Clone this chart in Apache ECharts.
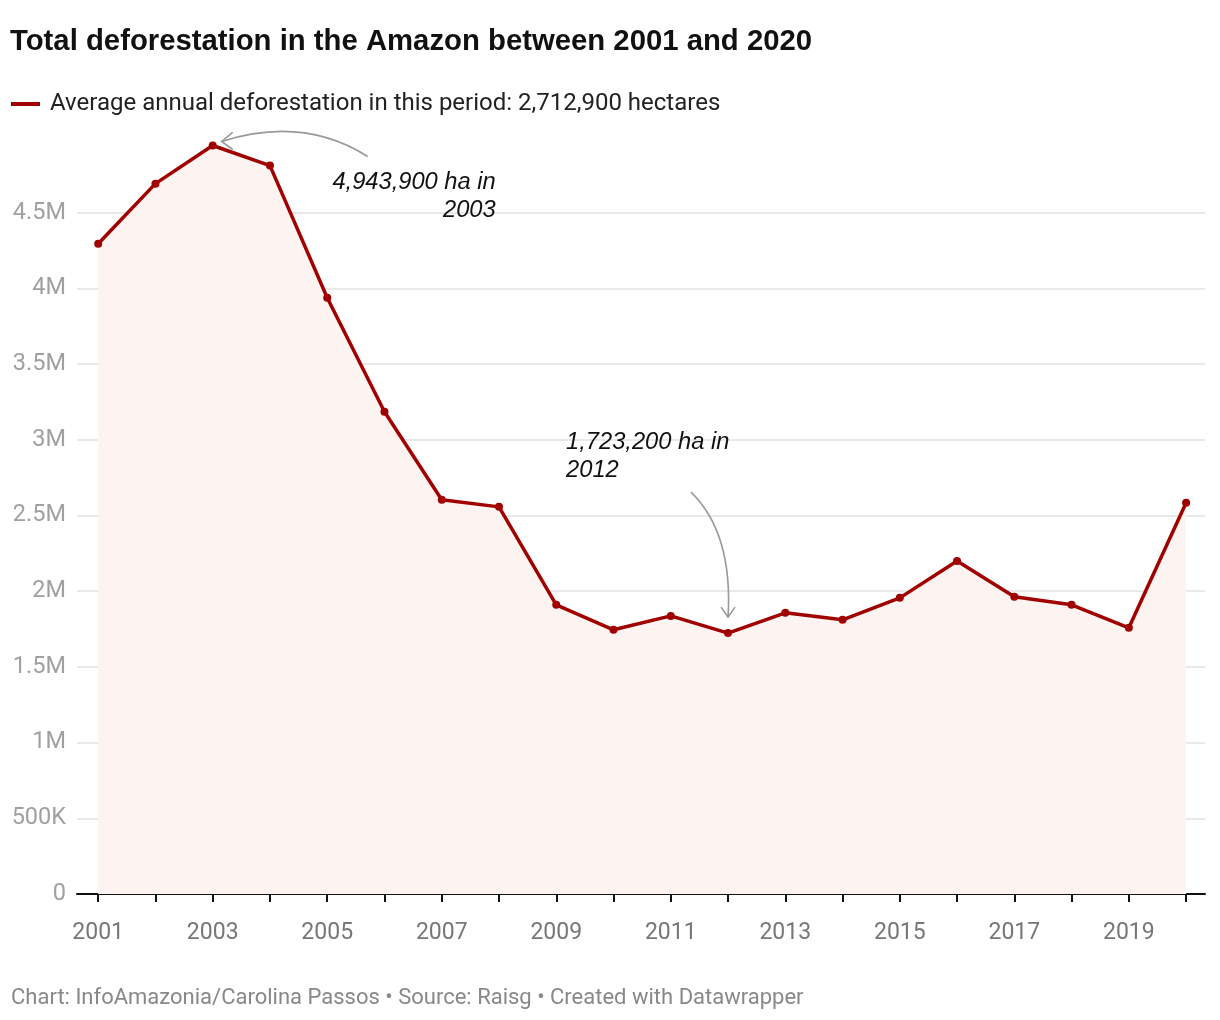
<!DOCTYPE html>
<html>
<head>
<meta charset="utf-8">
<script src="https://cdn.jsdelivr.net/npm/echarts@6/dist/echarts.min.js"></script>
<style>
html,body{margin:0;padding:0;background:#fff;}
#chart{width:1220px;height:1020px;}
</style>
</head>
<body>
<div id="chart"></div>
<script>
const years = [2001,2002,2003,2004,2005,2006,2007,2008,2009,2010,2011,2012,2013,2014,2015,2016,2017,2018,2019,2020];
const deforestation = [4295000,4692000,4943900,4811000,3938000,3185000,2604000,2557000,1910000,1745000,1837000,1723200,1857000,1811000,1956000,2200000,1963000,1910000,1758000,2584000];
const xLabelYears = [2001,2003,2005,2007,2009,2011,2013,2015,2017,2019];
const seriesName = 'Average annual deforestation in this period: 2,712,900 hectares';
const titleText = 'Total deforestation in the Amazon between 2001 and 2020';
const footerText = 'Chart: InfoAmazonia/Carolina Passos • Source: Raisg • Created with Datawrapper';
const annotations = [
  {year: 2003, text: '4,943,900 ha in\n2003'},
  {year: 2012, text: '1,723,200 ha in\n2012'}
];

const red = '#a00000';
const chart = echarts.init(document.getElementById('chart'));
const seriesData = years.map((y, i) => [y, deforestation[i]]);

function fmtY(v) {
  if (v === 0) return '0';
  if (v >= 1000000) return (v / 1000000) + 'M';
  return (v / 1000) + 'K';
}

chart.setOption({
  animation: false,
  backgroundColor: '#fff',
  title: [
    {text: titleText, left: 10, top: 27, padding: 0,
     textStyle: {fontFamily: 'Liberation Sans', fontWeight: 'bold', fontSize: 29.3, color: '#111'}},
    {text: footerText, left: 11, top: 987, padding: 0,
     textStyle: {fontFamily: 'Roboto', fontWeight: 'normal', fontSize: 22, color: '#888'}}
  ],
  legend: {
    left: 11, top: 92, padding: 0,
    itemWidth: 29, itemHeight: 4, itemGap: 10,
    icon: 'rect',
    textStyle: {fontFamily: 'Roboto', fontSize: 24, color: '#222', padding: [0, 0, 0, 5]},
    data: [{name: seriesName, itemStyle: {color: red}}]
  },
  grid: {left: 77, right: 15, top: 137, bottom: 126, containLabel: false},
  xAxis: {
    type: 'value',
    min: 2000.63, max: 2020.33,
    axisLine: {show: true, lineStyle: {color: '#111', width: 2}},
    axisTick: {show: true, customValues: years, length: 8, lineStyle: {color: '#111', width: 2}},
    axisLabel: {customValues: xLabelYears, margin: 28, fontFamily: 'Roboto', fontSize: 23, color: '#777',
                formatter: v => String(v)},
    splitLine: {show: false}
  },
  yAxis: {
    type: 'value',
    min: 0, max: 5000000, interval: 500000,
    axisLine: {show: false},
    axisTick: {show: false},
    axisLabel: {margin: 11, fontFamily: 'Roboto', fontSize: 23.5, color: '#a0a0a0', showMaxLabel: false,
                formatter: fmtY},
    splitLine: {show: true, showMaxLine: false, lineStyle: {color: '#e2e2e2', width: 1.5}}
  },
  series: [{
    name: seriesName,
    type: 'line',
    data: seriesData,
    symbol: 'circle',
    symbolSize: 8,
    lineStyle: {color: red, width: 3.5},
    itemStyle: {color: red},
    areaStyle: {color: '#fdf3f1', opacity: 1},
    z: 3
  }]
});

function px(year) {
  const i = years.indexOf(year);
  return chart.convertToPixel({xAxisIndex: 0, yAxisIndex: 0}, [year, deforestation[i]]);
}

const p1 = px(annotations[0].year);
const p2 = px(annotations[1].year);
const arrowStyle = {stroke: '#999', lineWidth: 1.6, fill: null};

const a1s = [p1[0] + 155, p1[1] + 11];
const a1e = [p1[0] + 9, p1[1] - 4];
const a1c = [p1[0] + 90, p1[1] - 30];
const a2s = [p2[0] - 37, p2[1] - 141];
const a2e = [p2[0], p2[1] - 16];
const a2c = [p2[0] + 5, p2[1] - 100];

chart.setOption({
  graphic: [
    {type: 'bezierCurve', shape: {x1: a1s[0], y1: a1s[1], x2: a1e[0], y2: a1e[1], cpx1: a1c[0], cpy1: a1c[1]}, style: arrowStyle, z: 10},
    {type: 'polyline', shape: {points: [[a1e[0] + 11, a1e[1] - 9], a1e, [a1e[0] + 11, a1e[1] + 8]]}, style: arrowStyle, z: 10},
    {type: 'bezierCurve', shape: {x1: a2s[0], y1: a2s[1], x2: a2e[0], y2: a2e[1], cpx1: a2c[0], cpy1: a2c[1]}, style: arrowStyle, z: 10},
    {type: 'polyline', shape: {points: [[a2e[0] - 7, a2e[1] - 10], a2e, [a2e[0] + 7, a2e[1] - 10]]}, style: arrowStyle, z: 10},
    {type: 'text', x: p1[0] + 283, y: p1[1] + 23, z: 10,
     style: {text: annotations[0].text, font: 'italic 23.7px "Liberation Sans"', fill: '#111', align: 'right', verticalAlign: 'top', lineHeight: 28}},
    {type: 'text', x: p2[0] - 162, y: p2[1] - 205, z: 10,
     style: {text: annotations[1].text, font: 'italic 23.7px "Liberation Sans"', fill: '#111', align: 'left', verticalAlign: 'top', lineHeight: 28}}
  ]
});
</script>
</body>
</html>
